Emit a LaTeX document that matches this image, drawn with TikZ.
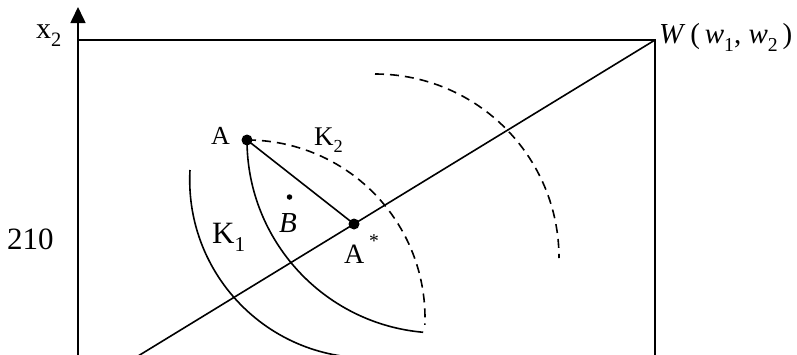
\documentclass[tikz,border=0pt]{standalone}
\usepackage{fontspec}
\setmainfont{Liberation Serif}
\usetikzlibrary{arrows.meta,calc}
\newcommand\lowsub[1]{\raisebox{-0.28em}{\scalebox{0.68}{#1}}}
\newcommand\fsz[1]{\fontsize{#1}{#1}\selectfont}
\begin{document}
\begin{tikzpicture}[x=1pt,y=-1pt,
  ln/.style={line width=1.6pt},
  dsh/.style={line width=1.6pt,dash pattern=on 9pt off 6pt},
  bigdot/.style={circle,fill=black,inner sep=0pt,minimum size=11pt},
  smalldot/.style={circle,fill=black,inner sep=0pt,minimum size=5.5pt},
  lbl/.style={anchor=base west,inner sep=0pt}]
\useasboundingbox (0,0) rectangle (797,354);
\clip (0,0) rectangle (797,354);
% frame
\coordinate (O) at (78,365);
\coordinate (T) at (78,7);
\coordinate (TL) at (78,40);
\coordinate (W) at (655,40);
\coordinate (BR) at (655,365);
\draw[ln,-{Triangle[length=16pt,width=15pt]}] (O) -- (T);
\draw[ln] (TL) -- (W) -- (BR);
% points
\node[bigdot] (A) at (247,140) {};
\node[bigdot] (As) at (354,224) {};
\node[smalldot] (B) at (289.5,197) {};
% diagonal
\draw[ln] (W) -- ($(W)!1.85!(As)$);
\draw[ln] (A.center) -- (As.center);
% arcs
\draw[ln] (A.center) arc[start angle=180,end angle=95,radius=193];
\draw[dsh] (A.center) arc[start angle=-90,end angle=2.2,radius=178];
\coordinate (k1s) at (190,170);
\draw[ln] (k1s) arc[start angle=183.2,end angle=96,radius=178];
\coordinate (ds) at (375,74);
\draw[dsh] (ds) arc[start angle=-90,end angle=0,radius=184];
% labels
\node[lbl] (lx2) at (36,38) {\fsz{30}x\lowsub{2}};
\node[lbl] (l210) at (7,249) {\fsz{31}210};
\node[lbl] (lA) at (211,144) {\fsz{26}A};
\node[lbl] (lK2) at (314,145) {\fsz{27}K\lowsub{2}};
\node[lbl] (lK1) at (212,243) {\fsz{31}K\lowsub{1}};
\node[lbl] (lB) at (279,232) {\fsz{29}\itshape B};
\node[lbl] (lAs) at (344,263) {\fsz{28}A\,\raisebox{0.55em}{\scalebox{0.7}{*}}};
\node[lbl] (lW) at (659,43) {\fsz{29}\textit{W}\,(\,\textit{w}\lowsub{1}, \textit{w}\lowsub{2}\,)};
\end{tikzpicture}
\end{document}
